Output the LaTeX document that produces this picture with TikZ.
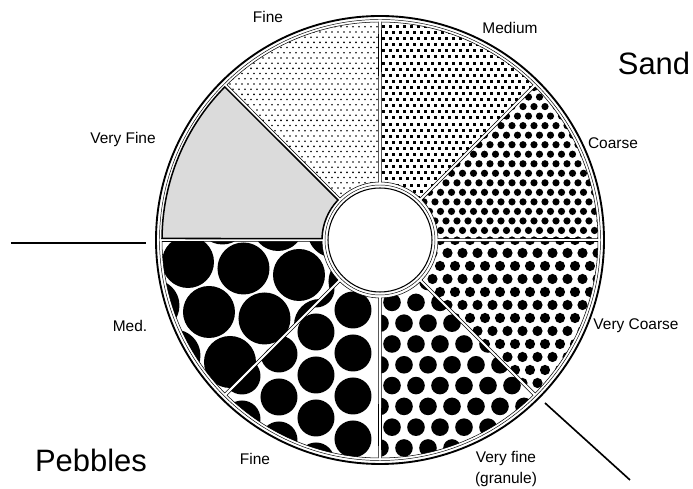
\documentclass[tikz,border=0pt]{standalone}
\usepackage{fontspec}
\setmainfont{Liberation Sans}
\usetikzlibrary{calc}

% one bin of the sieve: annular sector between two angles
\newcommand\grainsector[2]{%
  ({#1+1.4}:58) -- ({#1+0.4}:218)
  arc[start angle={#1+0.4}, end angle={#2-0.4}, radius=218]
  -- ({#2-1.4}:58)
  arc[start angle={#2-1.4}, end angle={#1+1.4}, radius=58] -- cycle}

\begin{document}
\begin{tikzpicture}[
  x=0.03cm, y=0.03cm,
  sizelabel/.style={font=\fontsize{13.2}{18.7}\selectfont, align=center},
  grouplabel/.style={font=\fontsize{26.4}{30}\selectfont},
  rim/.style={line width=1.6pt},
  thinrim/.style={line width=0.4pt},
  bin/.style={line width=0.45pt},
  veryfinebin/.style={fill=gray!28, line width=1.3pt},
  divider/.style={line width=1.4pt},
]
  \useasboundingbox (-380,-249) rectangle (313,240);

  % Sand: coarse
  \begin{scope}
    \clip \grainsector{0}{45};
    \foreach \i in {2,...,20} \foreach \j in {0,...,17}
      \fill ({\i*11+mod(\j,2)*5.5},{\j*9.53}) circle[radius=3.6];
  \end{scope}

  % Sand: medium
  \begin{scope}
    \clip \grainsector{45}{90};
    \foreach \i in {-1,...,22} \foreach \j in {5,...,36}
      \fill ({\i*7+mod(\j,2)*3.5-1.5},{\j*6.1-1.5}) rectangle ++(3,3);
  \end{scope}

  % Sand: fine
  \begin{scope}
    \clip \grainsector{90}{135};
    \foreach \i in {-27,...,1} \foreach \j in {6,...,43}
      \fill ({\i*6+mod(\j,2)*3},{\j*5.2}) circle[radius=0.9];
  \end{scope}

  % Sand: very coarse
  \begin{scope}
    \clip \grainsector{315}{360};
    \foreach \i in {2,...,15} \foreach \j in {0,...,12}
      \fill ({\i*15+mod(\j,2)*7.5},{-\j*13}) circle[radius=5.1];
  \end{scope}

  % Pebbles: very fine (granule)
  \begin{scope}
    \clip \grainsector{270}{315};
    \foreach \i in {-1,...,7} \foreach \j in {1,...,11}
      \fill ({\i*24+mod(\j,2)*12},{-\j*20.8}) circle[radius=8.8];
  \end{scope}

  % Pebbles: fine
  \begin{scope}
    \clip \grainsector{225}{270};
    \foreach \c in {0,...,4} \foreach \k in {-1,...,5}
      \fill ({-27-37*\c},{-70-22*\c-43*\k}) circle[radius=18.5];
  \end{scope}

  % Pebbles: medium
  \begin{scope}
    \clip \grainsector{180}{225};
    \foreach \a in {-1,...,3} \foreach \b in {-1,...,3}
      \fill ({-192+55.5*\a+21*\b},{-22-6.5*\a-50*\b}) circle[radius=26];
  \end{scope}

  % bin outlines
  \foreach \s/\e in {0/45, 45/90, 90/135, 180/225, 225/270, 270/315, 315/360}
    \draw[bin] \grainsector{\s}{\e};
  \draw[veryfinebin] \grainsector{135}{180};

  % rims
  \draw[rim] (0,0) circle[radius=224];
  \draw[thinrim] (0,0) circle[radius=220.5];
  \draw[line width=0.9pt, fill=white] (0,0) circle[radius=52];
  \draw[thinrim] (0,0) circle[radius=55];

  % labels
  \node[sizelabel] (sandfine) at (-112,223) {Fine};
  \node[sizelabel] (sandmedium) at (130,212) {Medium};
  \node[sizelabel] (sandcoarse) at (233,97) {Coarse};
  \node[sizelabel] (sandveryfine) at (-257,100) {Very Fine};
  \node[sizelabel] (sandverycoarse) at (256,-86) {Very Coarse};
  \node[sizelabel] (pebblemed) at (-250,-86) {Med.};
  \node[sizelabel] (pebblefine) at (-125,-219) {Fine};
  \node[sizelabel] (granule) at (126,-229) {Very fine\\(granule)};
  \node[grouplabel] (sand) at (274,177) {Sand};
  \node[grouplabel] (pebbles) at (-289,-220) {Pebbles};

  % split between sand and pebbles
  \coordinate (splitwestA) at (-369,-3);
  \coordinate (splitwestB) at (-234,-3);
  \coordinate (spliteastA) at (165,-163);
  \coordinate (spliteastB) at (250,-240);
  \draw[divider] (splitwestA) -- (splitwestB);
  \draw[divider] (spliteastA) -- (spliteastB);
\end{tikzpicture}
\end{document}
